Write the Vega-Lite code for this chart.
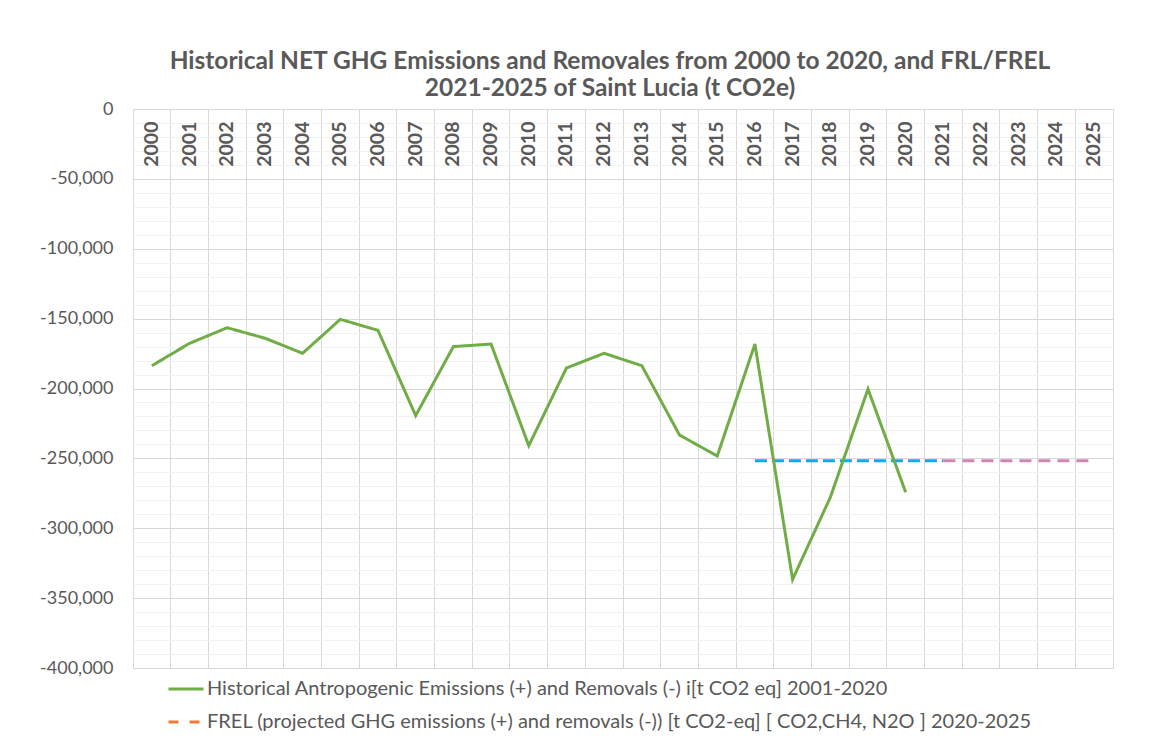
{
  "$schema": "https://vega.github.io/schema/vega-lite/v6.json",
  "autosize": {"type": "none"},
  "padding": {"left": 133, "top": 109, "right": 46, "bottom": 77},
  "width": 980,
  "height": 559,
  "background": "white",
  "config": {
    "view": {"stroke": "#D9D9D9", "strokeWidth": 1},
    "font": "Lato"
  },
  "title": {
    "text": ["Historical NET GHG Emissions and Removales from 2000 to 2020, and FRL/FREL", "2021-2025 of Saint Lucia (t CO2e)"],
    "font": "Lato",
    "fontSize": 24.5,
    "fontWeight": "bold",
    "color": "#595959",
    "anchor": "middle",
    "frame": "group",
    "dx": -13,
    "lineHeight": 27,
    "offset": -1
  },
  "datasets": {
    "hist": [
      {"year": "2000", "value": -183700, "series": "Historical Antropogenic Emissions (+) and Removals (-) i[t CO2 eq] 2001-2020"},
      {"year": "2001", "value": -167700, "series": "Historical Antropogenic Emissions (+) and Removals (-) i[t CO2 eq] 2001-2020"},
      {"year": "2002", "value": -156500, "series": "Historical Antropogenic Emissions (+) and Removals (-) i[t CO2 eq] 2001-2020"},
      {"year": "2003", "value": -164000, "series": "Historical Antropogenic Emissions (+) and Removals (-) i[t CO2 eq] 2001-2020"},
      {"year": "2004", "value": -174800, "series": "Historical Antropogenic Emissions (+) and Removals (-) i[t CO2 eq] 2001-2020"},
      {"year": "2005", "value": -150500, "series": "Historical Antropogenic Emissions (+) and Removals (-) i[t CO2 eq] 2001-2020"},
      {"year": "2006", "value": -158400, "series": "Historical Antropogenic Emissions (+) and Removals (-) i[t CO2 eq] 2001-2020"},
      {"year": "2007", "value": -219400, "series": "Historical Antropogenic Emissions (+) and Removals (-) i[t CO2 eq] 2001-2020"},
      {"year": "2008", "value": -170000, "series": "Historical Antropogenic Emissions (+) and Removals (-) i[t CO2 eq] 2001-2020"},
      {"year": "2009", "value": -168200, "series": "Historical Antropogenic Emissions (+) and Removals (-) i[t CO2 eq] 2001-2020"},
      {"year": "2010", "value": -240900, "series": "Historical Antropogenic Emissions (+) and Removals (-) i[t CO2 eq] 2001-2020"},
      {"year": "2011", "value": -185300, "series": "Historical Antropogenic Emissions (+) and Removals (-) i[t CO2 eq] 2001-2020"},
      {"year": "2012", "value": -174800, "series": "Historical Antropogenic Emissions (+) and Removals (-) i[t CO2 eq] 2001-2020"},
      {"year": "2013", "value": -183700, "series": "Historical Antropogenic Emissions (+) and Removals (-) i[t CO2 eq] 2001-2020"},
      {"year": "2014", "value": -233300, "series": "Historical Antropogenic Emissions (+) and Removals (-) i[t CO2 eq] 2001-2020"},
      {"year": "2015", "value": -248300, "series": "Historical Antropogenic Emissions (+) and Removals (-) i[t CO2 eq] 2001-2020"},
      {"year": "2016", "value": -168200, "series": "Historical Antropogenic Emissions (+) and Removals (-) i[t CO2 eq] 2001-2020"},
      {"year": "2017", "value": -336600, "series": "Historical Antropogenic Emissions (+) and Removals (-) i[t CO2 eq] 2001-2020"},
      {"year": "2018", "value": -277900, "series": "Historical Antropogenic Emissions (+) and Removals (-) i[t CO2 eq] 2001-2020"},
      {"year": "2019", "value": -200400, "series": "Historical Antropogenic Emissions (+) and Removals (-) i[t CO2 eq] 2001-2020"},
      {"year": "2020", "value": -274300, "series": "Historical Antropogenic Emissions (+) and Removals (-) i[t CO2 eq] 2001-2020"}
    ],
    "frel2016": [
      {"year": "2016", "value": -251700},
      {"year": "2017", "value": -251700},
      {"year": "2018", "value": -251700},
      {"year": "2019", "value": -251700},
      {"year": "2020", "value": -251700},
      {"year": "2021", "value": -251700}
    ],
    "frel2021": [
      {"year": "2021", "value": -251700},
      {"year": "2022", "value": -251700},
      {"year": "2023", "value": -251700},
      {"year": "2024", "value": -251700},
      {"year": "2025", "value": -251700}
    ]
  },
  "layer": [
    {
      "data": {"name": "frel2016"},
      "mark": {"type": "line", "color": "#00B0F0", "strokeWidth": 3, "strokeDash": [12, 5]},
      "encoding": {
        "x": {
          "field": "year", "type": "nominal", "bandPosition": 0.5,
          "scale": {"type": "band", "paddingInner": 0, "paddingOuter": 0,
            "domain": ["2000","2001","2002","2003","2004","2005","2006","2007","2008","2009","2010","2011","2012","2013","2014","2015","2016","2017","2018","2019","2020","2021","2022","2023","2024","2025"]},
          "axis": {
            "orient": "top", "title": null, "domain": false, "ticks": false, "tickSize": 0,
            "bandPosition": 0, "grid": true, "gridColor": "#D9D9D9", "gridWidth": 1,
            "labelAngle": 270, "labelAlign": "right", "labelBaseline": "middle",
            "labelPadding": -12,
            "labelFont": "Lato", "labelFontSize": 19.5, "labelFontWeight": "bold", "labelColor": "#595959"
          }
        },
        "y": {
          "field": "value", "type": "quantitative",
          "scale": {"domain": [-400000, 0], "nice": false, "zero": false},
          "axis": {
            "orient": "right", "title": null, "labels": false, "ticks": false, "domain": false,
            "grid": true, "gridColor": "#F2F2F2", "gridWidth": 1,
            "values": [-390000,-380000,-370000,-360000,-340000,-330000,-320000,-310000,-290000,-280000,-270000,-260000,-240000,-230000,-220000,-210000,-190000,-180000,-170000,-160000,-140000,-130000,-120000,-110000,-90000,-80000,-70000,-60000,-40000,-30000,-20000,-10000]
          }
        }
      }
    },
    {
      "data": {"name": "frel2021"},
      "mark": {"type": "line", "color": "#D086B5", "strokeWidth": 3, "strokeDash": [12, 7]},
      "encoding": {
        "x": {"field": "year", "type": "nominal", "bandPosition": 0.5},
        "y": {"field": "value", "type": "quantitative", "axis": null}
      }
    },
    {
      "data": {"name": "hist"},
      "mark": {"type": "line", "strokeWidth": 3},
      "encoding": {
        "x": {"field": "year", "type": "nominal", "bandPosition": 0.5},
        "y": {
          "field": "value", "type": "quantitative",
          "axis": {
            "orient": "left", "title": null, "ticks": false, "domain": false,
            "grid": true, "gridColor": "#D9D9D9", "gridWidth": 1,
            "values": [-400000, -350000, -300000, -250000, -200000, -150000, -100000, -50000, 0],
            "labelExpr": "replace(format(datum.value, ','), '\u2212', '-')",
            "labelPadding": 20, "labelFont": "Lato", "labelFontSize": 18, "labelColor": "#595959"
          }
        },
        "color": {
          "field": "series", "type": "nominal",
          "scale": {
            "domain": ["Historical Antropogenic Emissions (+) and Removals (-) i[t CO2 eq] 2001-2020", "FREL (projected GHG emissions (+) and removals (-)) [t CO2-eq] [ CO2,CH4, N2O ] 2020-2025"],
            "range": ["#70AD47", "#ED7D31"]
          },
          "legend": {
            "orient": "none", "legendX": 34, "legendY": 561, "direction": "vertical",
            "title": null, "symbolType": "stroke", "symbolSize": 1225, "symbolStrokeWidth": 3,
            "labelFont": "Lato", "labelFontSize": 20, "labelColor": "#595959", "labelLimit": 2000,
            "labelOffset": 2, "rowPadding": 4
          }
        },
        "strokeDash": {
          "field": "series", "type": "nominal",
          "scale": {
            "domain": ["Historical Antropogenic Emissions (+) and Removals (-) i[t CO2 eq] 2001-2020", "FREL (projected GHG emissions (+) and removals (-)) [t CO2-eq] [ CO2,CH4, N2O ] 2020-2025"],
            "range": [[1, 0], [10, 11]]
          },
          "legend": {
            "orient": "none", "legendX": 34, "legendY": 561, "direction": "vertical",
            "title": null, "symbolType": "stroke", "symbolSize": 1225, "symbolStrokeWidth": 3,
            "labelFont": "Lato", "labelFontSize": 20, "labelColor": "#595959", "labelLimit": 2000,
            "labelOffset": 2, "rowPadding": 4
          }
        }
      }
    }
  ],
  "resolve": {"axis": {"y": "independent"}}
}
